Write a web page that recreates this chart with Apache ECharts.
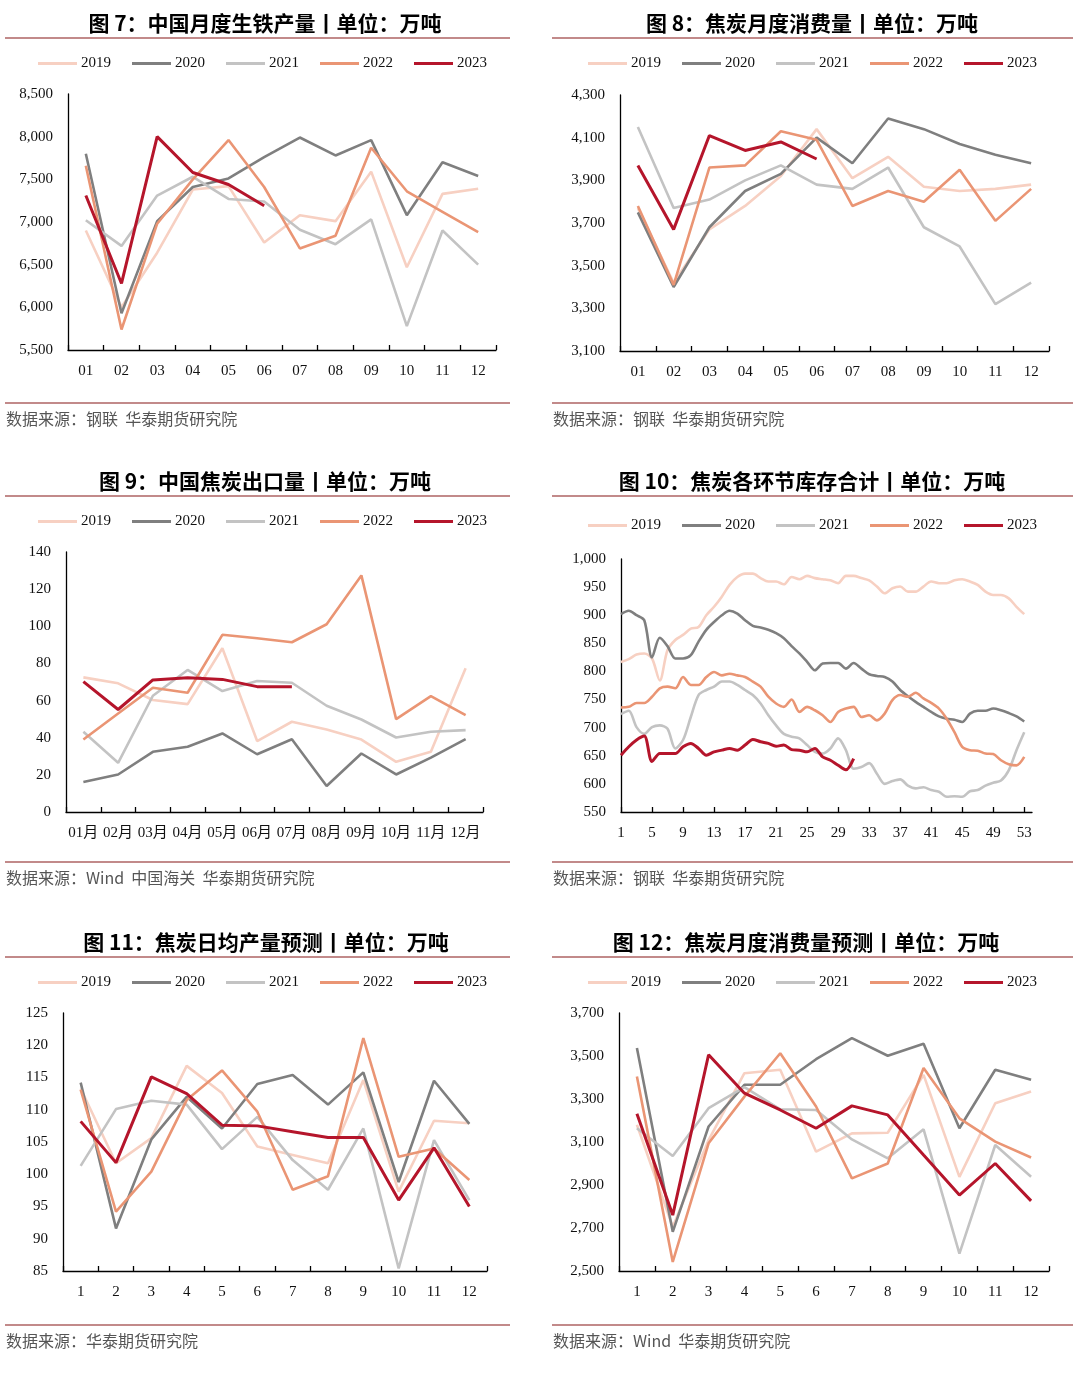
<!DOCTYPE html>
<html><head><meta charset="utf-8">
<script src="https://cdn.jsdelivr.net/npm/echarts@6/dist/echarts.min.js"></script>
<style>
html,body{margin:0;padding:0;background:#fff;}
body{width:1080px;height:1378px;position:relative;overflow:hidden;}
.p{position:absolute;width:540px;height:461px;}
</style></head><body>
<div id="c7" class="p" style="left:0;top:0"></div>
<div id="c8" class="p" style="left:540px;top:0"></div>
<div id="c9" class="p" style="left:0;top:458px"></div>
<div id="c10" class="p" style="left:540px;top:458px"></div>
<div id="c11" class="p" style="left:0;top:919px"></div>
<div id="c12" class="p" style="left:540px;top:919px"></div>
<script>
const YEARS = ['2019','2020','2021','2022','2023'];
const months = ['01','02','03','04','05','06','07','08','09','10','11','12'];
const monthsCN = ['01月','02月','03月','04月','05月','06月','07月','08月','09月','10月','11月','12月'];
const monthNums = ['1','2','3','4','5','6','7','8','9','10','11','12'];
const weeks = ['1','2','3','4','5','6','7','8','9','10','11','12','13','14','15','16','17','18','19','20','21','22','23','24','25','26','27','28','29','30','31','32','33','34','35','36','37','38','39','40','41','42','43','44','45','46','47','48','49','50','51','52','53','54'];

// 图7 中国月度生铁产量
const pigIron2019 = [6900, 6000, 6640, 7380, 7420, 6760, 7080, 7010, 7590, 6470, 7330, 7390];
const pigIron2020 = [7800, 5930, 7010, 7410, 7510, 7760, 7990, 7780, 7960, 7080, 7700, 7540];
const pigIron2021 = [7020, 6720, 7310, 7530, 7270, 7240, 6910, 6740, 7030, 5780, 6900, 6500];
const pigIron2022 = [7660, 5740, 6980, 7500, 7960, 7410, 6690, 6840, 7870, 7360, 7120, 6880];
const pigIron2023 = [7310, 6280, 8000, 7580, 7440, 7190];

// 图8 焦炭月度消费量
const cokeUse2019 = [3770, 3420, 3670, 3780, 3920, 4140, 3910, 4010, 3870, 3850, 3860, 3880];
const cokeUse2020 = [3750, 3400, 3680, 3850, 3930, 4100, 3980, 4190, 4140, 4070, 4020, 3980];
const cokeUse2021 = [4150, 3770, 3810, 3900, 3970, 3880, 3860, 3960, 3680, 3590, 3320, 3420];
const cokeUse2022 = [3780, 3410, 3960, 3970, 4130, 4090, 3780, 3850, 3800, 3950, 3710, 3860];
const cokeUse2023 = [3970, 3670, 4110, 4040, 4080, 4000];

// 图9 中国焦炭出口量
const cokeExp2019 = [72.5, 69.3, 60.3, 58.1, 88.2, 38.2, 48.6, 44.4, 39.0, 27.0, 32.4, 77.4];
const cokeExp2020 = [16.2, 20.2, 32.4, 35.1, 42.3, 31.1, 39.2, 14.0, 31.5, 20.2, 29.3, 39.2];
const cokeExp2021 = [43.2, 26.5, 62.6, 76.5, 65.1, 70.5, 69.6, 57.2, 49.8, 40.1, 43.2, 44.1];
const cokeExp2022 = [39.0, 53.0, 66.9, 64.2, 95.4, 93.6, 91.4, 101.1, 127.4, 50.0, 62.4, 52.2];
const cokeExp2023 = [70.2, 55.2, 71.1, 72.3, 71.4, 67.5, 67.5];

// 图10 焦炭各环节库存合计 (周)
const cokeInv2019 = [817, 822, 830, 832, 823, 784, 838, 856, 865, 876, 879, 900, 915, 933, 954, 968, 974, 974, 966, 960, 960, 955, 968, 964, 970, 966, 964, 962, 957, 970, 970, 966, 962, 951, 939, 948, 951, 942, 942, 951, 960, 957, 957, 962, 964, 960, 954, 942, 936, 936, 930, 915, 902];
const cokeInv2020 = [902, 908, 900, 891, 825, 860, 845, 823, 823, 829, 853, 874, 888, 900, 908, 903, 891, 881, 878, 874, 868, 859, 845, 832, 817, 802, 814, 815, 815, 805, 815, 805, 795, 792, 790, 782, 767, 756, 746, 737, 728, 720, 716, 714, 710, 725, 730, 730, 734, 731, 726, 720, 711];
const cokeInv2021 = [724, 730, 701, 689, 701, 704, 698, 663, 678, 719, 758, 767, 773, 782, 782, 776, 767, 758, 743, 722, 704, 689, 684, 681, 669, 657, 654, 663, 681, 660, 627, 630, 637, 618, 600, 605, 608, 597, 592, 594, 589, 586, 577, 578, 577, 587, 589, 597, 602, 606, 624, 660, 692];
const cokeInv2022 = [736, 737, 744, 744, 755, 770, 773, 770, 790, 776, 776, 790, 799, 793, 796, 793, 790, 782, 773, 755, 743, 737, 750, 728, 737, 731, 722, 710, 728, 734, 737, 719, 722, 713, 725, 749, 758, 755, 762, 752, 744, 734, 716, 692, 666, 660, 659, 654, 653, 642, 635, 633, 648];
const cokeInv2023 = [651, 666, 678, 685, 640, 654, 654, 654, 666, 672, 663, 651, 657, 660, 663, 660, 669, 679, 675, 672, 667, 669, 661, 660, 657, 663, 648, 642, 633, 625, 645];

// 图11 焦炭日均产量预测
const cokeDaily2019 = [113.3, 101.7, 105.6, 116.8, 112.6, 104.3, 103.0, 101.7, 114.6, 97.3, 108.3, 107.9];
const cokeDaily2020 = [114.2, 91.6, 105.4, 112.0, 107.1, 114.0, 115.4, 110.8, 115.8, 98.8, 114.5, 107.8];
const cokeDaily2021 = [101.3, 110.1, 111.4, 110.8, 103.9, 108.9, 102.2, 97.6, 107.1, 85.4, 105.3, 96.0];
const cokeDaily2022 = [113.1, 94.2, 100.4, 111.5, 116.1, 109.7, 97.6, 99.7, 121.1, 102.7, 104.0, 99.1];
const cokeDaily2023 = [108.2, 101.8, 115.1, 112.5, 107.6, 107.5, 106.6, 105.7, 105.7, 96.0, 104.1, 95.0];

// 图12 焦炭月度消费量预测
const cokeFc2019 = [3180, 2705, 3109, 3420, 3436, 3055, 3140, 3143, 3412, 2938, 3280, 3335];
const cokeFc2020 = [3537, 2682, 3172, 3366, 3366, 3485, 3583, 3501, 3557, 3164, 3436, 3389];
const cokeFc2021 = [3164, 3035, 3257, 3355, 3252, 3249, 3112, 3024, 3159, 2581, 3086, 2938];
const cokeFc2022 = [3405, 2542, 3094, 3311, 3513, 3265, 2931, 3000, 3444, 3210, 3102, 3028];
const cokeFc2023 = [3231, 2760, 3506, 3327, 3249, 3164, 3268, 3226, 3039, 2853, 3000, 2826];

const COLORS = {'2019':'#F7D0C2','2020':'#7F7F7F','2021':'#C3C3C3','2022':'#EA9574','2023':'#B5152B'};
const SERIF = "'Liberation Serif','Noto Sans CJK SC',serif";
const SANS = "'Noto Sans CJK SC',sans-serif";

function fmt(v){ return v.toLocaleString('en-US'); }

function mk(id, c){
  const chart = echarts.init(document.getElementById(id), null, {renderer:'canvas'});
  const series = YEARS.map((y,i)=>({
    name:y, type:'line', data:c.data[i], symbol:'none', showSymbol:false,
    smooth:c.smooth||false, connectNulls:false,
    lineStyle:{width: y==='2023'?3:2.6, color:COLORS[y]},
    itemStyle:{color:COLORS[y]}
  }));
  const x1 = c.right ? 12 : 5, x2 = c.right ? 533 : 510;
  chart.setOption({
    animation:false,
    legend:{
      data:YEARS, left:c.right?43:33, top:c.legendTop||51, icon:'rect',
      itemWidth:39, itemHeight:3, itemGap:21,
      textStyle:{fontFamily:SERIF, fontSize:15, color:'#111', padding:[0,0,0,-1]}
    },
    grid:c.grid,
    xAxis:{
      type:'category', data:c.cats, boundaryGap:c.boundaryGap!==false,
      axisLine:{lineStyle:{color:'#000', width:1.3}},
      axisTick:{show:true, inside:true, length:5, interval:c.tickInterval===undefined?'auto':c.tickInterval, lineStyle:{color:'#000', width:1.3}},
      axisLabel:{interval:c.labelInterval===undefined?0:c.labelInterval, fontFamily:SERIF, fontSize:c.xFont||15, color:'#111', margin:14}
    },
    yAxis:{
      type:'value', min:c.ymin, max:c.ymax, interval:c.yint,
      axisLine:{show:true, lineStyle:{color:'#000', width:1.3}},
      axisTick:{show:false}, splitLine:{show:false},
      axisLabel:{fontFamily:SERIF, fontSize:15, color:'#111', margin:15,
        formatter:(v)=> ((Math.round(v - c.ymin) % c.ystep) === 0 ? fmt(v) : '')}
    },
    graphic:[
      {type:'text', x:c.titleX, y:23, style:{text:c.title, fontFamily:SANS, fontWeight:'bold', fontSize:21, fill:'#000', align:'center', verticalAlign:'middle', textAlign:'center', textVerticalAlign:'middle'}},
      {type:'line', shape:{x1:x1, y1:38, x2:x2, y2:38}, style:{stroke:'#C28A8A', lineWidth:2}},
      {type:'line', shape:{x1:x1, y1:c.botY, x2:x2, y2:c.botY}, style:{stroke:'#C28A8A', lineWidth:2}},
      {type:'text', x:x1+1, y:c.botY+16, style:{text:c.source, fontFamily:SANS, fontSize:16, fill:'#555', align:'left', verticalAlign:'middle', textAlign:'left', textVerticalAlign:'middle'}}
    ],
    series
  });
}

mk('c7', {title:'图 7：中国月度生铁产量丨单位：万吨', titleX:265, right:false,
  grid:{left:68, top:94, width:428, height:256}, cats:months,
  ymin:5500, ymax:8500, yint:500, ystep:500, botY:403,
  source:'数据来源：钢联  华泰期货研究院',
  data:[pigIron2019, pigIron2020, pigIron2021, pigIron2022, pigIron2023]});

mk('c8', {title:'图 8：焦炭月度消费量丨单位：万吨', titleX:272, right:true,
  grid:{left:80, top:95, width:429, height:256}, cats:months,
  ymin:3100, ymax:4300, yint:100, ystep:200, botY:403,
  source:'数据来源：钢联  华泰期货研究院',
  data:[cokeUse2019, cokeUse2020, cokeUse2021, cokeUse2022, cokeUse2023]});

mk('c9', {title:'图 9：中国焦炭出口量丨单位：万吨', titleX:265, right:false,
  grid:{left:66, top:94, width:417, height:260}, cats:monthsCN, xFont:15,
  ymin:0, ymax:140, yint:20, ystep:20, botY:404,
  source:'数据来源：Wind  中国海关  华泰期货研究院',
  data:[cokeExp2019, cokeExp2020, cokeExp2021, cokeExp2022, cokeExp2023]});

mk('c10', {title:'图 10：焦炭各环节库存合计丨单位：万吨', titleX:272, right:true, legendTop:55,
  grid:{left:81, top:101, width:411, height:253}, cats:weeks, boundaryGap:false,
  labelInterval:3, tickInterval:3, smooth:0.3,
  ymin:550, ymax:1000, yint:50, ystep:50, botY:404,
  source:'数据来源：钢联  华泰期货研究院',
  data:[cokeInv2019, cokeInv2020, cokeInv2021, cokeInv2022, cokeInv2023]});

mk('c11', {title:'图 11：焦炭日均产量预测丨单位：万吨', titleX:266, right:false,
  grid:{left:63, top:94, width:424, height:258}, cats:monthNums,
  ymin:85, ymax:125, yint:5, ystep:5, botY:406,
  source:'数据来源：华泰期货研究院',
  data:[cokeDaily2019, cokeDaily2020, cokeDaily2021, cokeDaily2022, cokeDaily2023]});

mk('c12', {title:'图 12：焦炭月度消费量预测丨单位：万吨', titleX:266, right:true,
  grid:{left:79, top:94, width:430, height:258}, cats:monthNums,
  ymin:2500, ymax:3700, yint:100, ystep:200, botY:406,
  source:'数据来源：Wind  华泰期货研究院',
  data:[cokeFc2019, cokeFc2020, cokeFc2021, cokeFc2022, cokeFc2023]});
</script>
</body></html>
